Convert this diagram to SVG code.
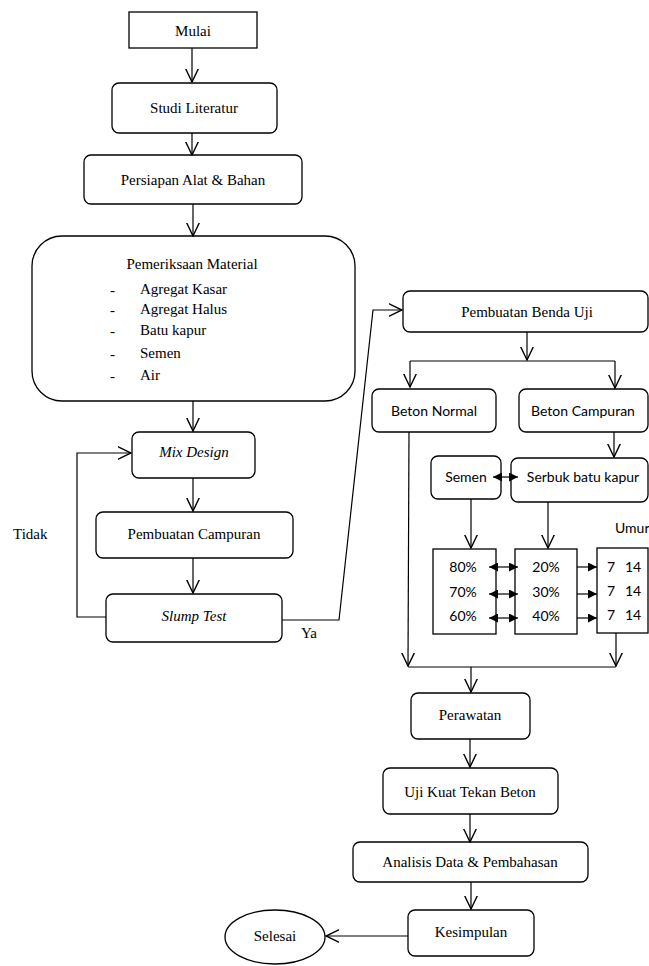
<svg xmlns="http://www.w3.org/2000/svg" width="649" height="966" viewBox="0 0 649 966">
<defs>
<marker id="open" markerUnits="userSpaceOnUse" markerWidth="14" markerHeight="14" viewBox="0 0 12 12" refX="11.5" refY="6" orient="auto">
<path d="M0,0.5 L11.5,6 L0,11.5" fill="none" stroke="#000" stroke-width="1.2"/>
</marker>
<marker id="fill" markerUnits="userSpaceOnUse" markerWidth="9" markerHeight="9" viewBox="0 0 10 10" refX="10" refY="5" orient="auto-start-reverse">
<path d="M0,0 L10,5 L0,10 z" fill="#000"/>
</marker>
</defs>
<style>
.box{fill:#fff;stroke:#000;stroke-width:1.3}
.ln{fill:none;stroke:#000;stroke-width:1.2}
.a{marker-end:url(#open)}
.f{marker-end:url(#fill)}
.d{marker-start:url(#fill);marker-end:url(#fill)}
.s{font-family:"Liberation Serif",serif;font-size:15px;fill:#000}
.m{text-anchor:middle}
.i{font-style:italic}
.c{font-family:Lato,"Liberation Sans",sans-serif;font-size:14px;fill:#000}
</style>
<rect width="649" height="966" fill="#fff"/>

<g id="mulai">
<rect class="box" x="129" y="12" width="128" height="36"/>
<text class="s m" x="193" y="36">Mulai</text>
</g>
<g id="studi">
<rect class="box" x="112" y="83" width="165" height="50" rx="7"/>
<text class="s m" x="194" y="113">Studi Literatur</text>
</g>
<g id="persiapan">
<rect class="box" x="84" y="155" width="218" height="49" rx="7"/>
<text class="s m" x="193" y="185">Persiapan Alat &amp; Bahan</text>
</g>
<g id="pemeriksaan">
<rect class="box" x="32" y="236" width="323" height="165" rx="30"/>
<text class="s m" x="192" y="269">Pemeriksaan Material</text>
<text class="s" x="110" y="295">-</text><text class="s" x="140" y="294">Agregat  Kasar</text>
<text class="s" x="110" y="315">-</text><text class="s" x="140" y="314">Agregat  Halus</text>
<text class="s" x="110" y="336">-</text><text class="s" x="140" y="335">Batu kapur</text>
<text class="s" x="110" y="359">-</text><text class="s" x="140" y="358">Semen</text>
<text class="s" x="110" y="381">-</text><text class="s" x="140" y="380">Air</text>
</g>
<g id="mixdesign">
<rect class="box" x="132" y="432" width="123" height="46" rx="7"/>
<text class="s m i" x="194" y="457">Mix Design</text>
</g>
<g id="campuran">
<rect class="box" x="96" y="512" width="197" height="46" rx="7"/>
<text class="s m" x="194" y="539">Pembuatan Campuran</text>
</g>
<g id="slump">
<rect class="box" x="106" y="594" width="176" height="48" rx="7"/>
<text class="s m i" x="194" y="621">Slump Test</text>
</g>
<g id="label-tidak"><text class="s" x="13" y="539">Tidak</text></g>
<g id="label-ya"><text class="s" x="301" y="638">Ya</text></g>

<g id="bendauji">
<rect class="box" x="403" y="291" width="245" height="41" rx="7"/>
<text class="s m" x="527" y="317">Pembuatan Benda Uji</text>
</g>
<g id="betonnormal">
<rect class="box" x="372" y="389" width="124" height="43" rx="7"/>
<text class="c m" x="434" y="416">Beton Normal</text>
</g>
<g id="betoncampuran">
<rect class="box" x="519" y="389" width="129" height="43" rx="7"/>
<text class="c m" x="583" y="416">Beton Campuran</text>
</g>
<g id="semen">
<rect class="box" x="431" y="456" width="70" height="43" rx="7"/>
<text class="c m" x="466" y="482">Semen</text>
</g>
<g id="serbuk">
<rect class="box" x="511" y="458" width="137" height="44" rx="7"/>
<text class="c m" x="583" y="482">Serbuk batu kapur</text>
</g>
<g id="semenpct">
<rect class="box" x="433" y="549" width="63" height="85"/>
<text class="c m" x="463" y="572">80%</text>
<text class="c m" x="463" y="597">70%</text>
<text class="c m" x="463" y="621">60%</text>
</g>
<g id="kapurpct">
<rect class="box" x="515" y="549" width="62" height="85"/>
<text class="c m" x="546" y="572">20%</text>
<text class="c m" x="546" y="597">30%</text>
<text class="c m" x="546" y="621">40%</text>
</g>
<g id="umur">
<text class="c" x="615" y="533">Umur</text>
<rect class="box" x="597" y="548" width="51" height="85"/>
<text class="c" x="607" y="572">7</text><text class="c" x="625" y="572">14</text>
<text class="c" x="607" y="596">7</text><text class="c" x="625" y="596">14</text>
<text class="c" x="607" y="620">7</text><text class="c" x="625" y="620">14</text>
</g>
<g id="perawatan">
<rect class="box" x="411" y="693" width="119" height="46" rx="7"/>
<text class="s m" x="470" y="720">Perawatan</text>
</g>
<g id="ujikuat">
<rect class="box" x="383" y="768" width="175" height="46" rx="7"/>
<text class="s m" x="470" y="797">Uji Kuat Tekan Beton</text>
</g>
<g id="analisis">
<rect class="box" x="353" y="842" width="235" height="40" rx="7"/>
<text class="s m" x="470" y="867">Analisis Data &amp; Pembahasan</text>
</g>
<g id="kesimpulan">
<rect class="box" x="408" y="910" width="126" height="46" rx="7"/>
<text class="s m" x="471" y="937">Kesimpulan</text>
</g>
<g id="selesai">
<ellipse class="box" cx="275" cy="937" rx="50" ry="27"/>
<text class="s m" x="275" y="941">Selesai</text>
</g>

<g id="connectors">
<line class="ln a" x1="192" y1="48" x2="192" y2="82"/>
<line class="ln a" x1="192" y1="133" x2="192" y2="155"/>
<line class="ln a" x1="193" y1="204" x2="193" y2="236"/>
<line class="ln a" x1="193" y1="401" x2="193" y2="431"/>
<line class="ln a" x1="193" y1="478" x2="193" y2="511"/>
<line class="ln a" x1="193" y1="558" x2="193" y2="593"/>
<polyline class="ln a" points="106,617 77,617 77,453 131,453"/>
<polyline class="ln a" points="282,620 339,620 373,310 402,310"/>
<line class="ln a" x1="527" y1="332" x2="527" y2="360"/>
<polyline class="ln a" points="410,361 410,387"/>
<line class="ln" x1="410" y1="361" x2="615" y2="361"/>
<polyline class="ln a" points="615,361 615,388"/>
<line class="ln a" x1="614" y1="432" x2="614" y2="457"/>
<line class="ln d" x1="493" y1="477" x2="518" y2="477"/>
<line class="ln a" x1="471" y1="499" x2="471" y2="548"/>
<line class="ln a" x1="548" y1="502" x2="548" y2="548"/>
<line class="ln d" x1="489" y1="567" x2="518" y2="567"/>
<line class="ln d" x1="489" y1="594" x2="518" y2="594"/>
<line class="ln d" x1="489" y1="618" x2="518" y2="618"/>
<line class="ln f" x1="577" y1="567" x2="597" y2="567"/>
<line class="ln f" x1="577" y1="594" x2="597" y2="594"/>
<line class="ln f" x1="577" y1="618" x2="597" y2="618"/>
<line class="ln a" x1="409" y1="432" x2="408" y2="666"/>
<line class="ln a" x1="616" y1="633" x2="616" y2="666"/>
<line class="ln" x1="408" y1="667" x2="616" y2="667"/>
<line class="ln a" x1="471" y1="667" x2="471" y2="692"/>
<line class="ln a" x1="470" y1="739" x2="470" y2="767"/>
<line class="ln a" x1="470" y1="814" x2="470" y2="842"/>
<line class="ln a" x1="471" y1="882" x2="471" y2="909"/>
<line class="ln a" x1="408" y1="936" x2="326" y2="936"/>
</g>
</svg>
